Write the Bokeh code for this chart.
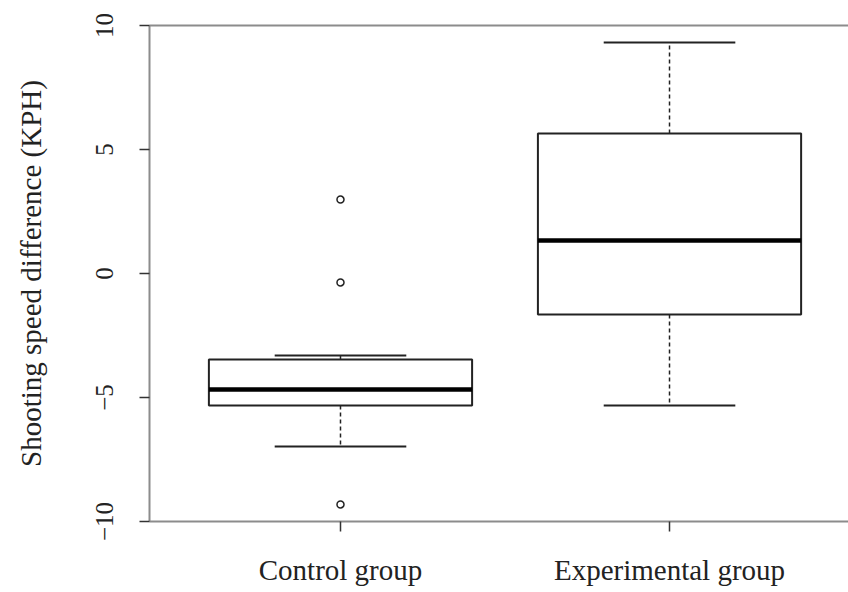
from bokeh.plotting import figure
from bokeh.models import Range1d, FixedTicker, LinearAxis, ColumnDataSource
from bokeh.embed import file_html
from bokeh.resources import INLINE

# ---- data ----
groups = ["Control group", "Experimental group"]
positions = [1, 2]
q1 = [-5.32, -1.65]
median = [-4.68, 1.33]
q3 = [-3.47, 5.65]
whisker_low = [-6.98, -5.32]
whisker_high = [-3.31, 9.31]
outlier_x = [1, 1, 1]
outlier_y = [2.98, -0.36, -9.31]
y_ticks = [-10, -5, 0, 5, 10]

box_w = 0.8
cap_w = 0.4
FONT = "Liberation Serif"
LINE = "#222222"
FRAME = "#8c8c8c"

p = figure(width=848, height=592, output_backend="svg", toolbar_location=None,
           x_range=Range1d(0.4195, 2.544), y_range=Range1d(-10, 10),
           min_border_left=149, min_border_right=0, min_border_top=25,
           min_border_bottom=71, outline_line_color=None)
p.grid.visible = False
p.background_fill_color = "white"
p.border_fill_color = "white"

src = ColumnDataSource(dict(
    x=positions, q1=q1, med=median, q3=q3, lo=whisker_low, hi=whisker_high,
    left=[v - box_w / 2 for v in positions], right=[v + box_w / 2 for v in positions],
    cl=[v - cap_w / 2 for v in positions], cr=[v + cap_w / 2 for v in positions],
))

# whiskers (dashed)
p.segment(x0="x", y0="q3", x1="x", y1="hi", source=src, line_color=LINE,
          line_width=1.5, line_dash="4 3")
p.segment(x0="x", y0="q1", x1="x", y1="lo", source=src, line_color=LINE,
          line_width=1.5, line_dash="4 3")
# caps
p.segment(x0="cl", y0="hi", x1="cr", y1="hi", source=src, line_color=LINE, line_width=2)
p.segment(x0="cl", y0="lo", x1="cr", y1="lo", source=src, line_color=LINE, line_width=2)
# boxes
p.quad(left="left", right="right", bottom="q1", top="q3", source=src,
       fill_color="white", line_color=LINE, line_width=2)
# medians
p.segment(x0="left", y0="med", x1="right", y1="med", source=src,
          line_color="black", line_width=4.5)
# outliers
p.scatter(outlier_x, outlier_y, size=7, fill_color="white", line_color=LINE,
          line_width=1.5)

# y axis
ya = p.yaxis[0]
ya.ticker = FixedTicker(ticks=y_ticks)
ya.axis_label = "Shooting speed difference (KPH)"
ya.axis_label_text_font = FONT
ya.axis_label_text_font_size = "29px"
ya.axis_label_text_font_style = "normal"
ya.axis_label_text_color = "#222222"
ya.axis_label_standoff = 46
ya.major_label_text_font = FONT
ya.major_label_text_font_size = "25px"
ya.major_label_text_color = "#222222"
ya.major_label_orientation = "vertical"
ya.major_label_standoff = 27
ya.axis_line_color = FRAME
ya.axis_line_width = 2
ya.major_tick_line_color = "#333333"
ya.major_tick_line_width = 1.5
ya.major_tick_out = 10
ya.major_tick_in = 0
ya.minor_tick_line_color = None

# x axis
xa = p.xaxis[0]
xa.ticker = FixedTicker(ticks=positions)
xa.major_label_overrides = {pos: g for pos, g in zip(positions, groups)}
xa.major_label_text_font = FONT
xa.major_label_text_font_size = "29px"
xa.major_label_text_color = "#222222"
xa.major_label_standoff = 22
xa.axis_line_color = FRAME
xa.axis_line_width = 2
xa.major_tick_line_color = "#333333"
xa.major_tick_line_width = 1.5
xa.major_tick_out = 10
xa.major_tick_in = 0
xa.minor_tick_line_color = None

# top frame line
top = LinearAxis(major_tick_line_color=None, minor_tick_line_color=None,
                 major_label_text_font_size="0px", axis_line_color=FRAME,
                 axis_line_width=2)
top.major_label_text_color = None
p.add_layout(top, "above")

open("out.html", "w").write(file_html(p, INLINE))
